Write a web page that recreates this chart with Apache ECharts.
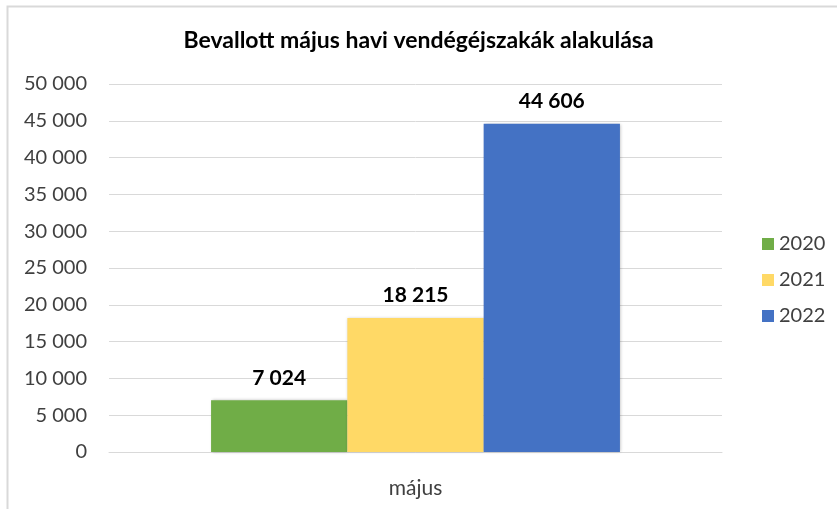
<!DOCTYPE html>
<html>
<head>
<meta charset="utf-8">
<script src="https://cdn.jsdelivr.net/npm/echarts@6/dist/echarts.min.js"></script>
<style>html,body{margin:0;padding:0;background:#fff}#c{width:837px;height:509px}</style>
</head>
<body>
<div id="c"></div>
<script>
var titleText = 'Bevallott május havi vendégéjszakák alakulása';
var categories = ['május'];
var seriesNames = ['2020', '2021', '2022'];
var values2020 = [7024];
var values2021 = [18215];
var values2022 = [44606];
var yMin = 0, yMax = 50000, yStep = 5000;
var colors = ['#70ad47', '#ffd966', '#4472c4'];

function fmt(v) {
  return String(Math.round(v)).replace(/\B(?=(\d{3})+(?!\d))/g, ' ');
}
var FONT = 'Lato';
var chart = echarts.init(document.getElementById('c'), null, {renderer: 'canvas'});
var dataSets = [values2020, values2021, values2022];
var series = seriesNames.map(function (n, i) {
  return {
    name: n,
    type: 'bar',
    data: dataSets[i],
    barGap: '0%',
    barCategoryGap: '33.3%',
    itemStyle: {color: colors[i], shadowColor: 'rgba(0,0,0,0.25)', shadowBlur: 3, shadowOffsetX: 1, shadowOffsetY: 0},
    label: {
      show: true, position: 'top', distance: 12,
      fontFamily: FONT, fontWeight: 'bold', fontSize: 21, color: '#000',
      formatter: function (p) { return fmt(p.value); }
    }
  };
});
chart.setOption({
  animation: false,
  color: colors,
  title: {
    text: titleText, left: 'center', top: 24,
    textStyle: {fontFamily: FONT, fontWeight: 'bold', fontSize: 23, color: '#000'}
  },
  legend: {
    orient: 'vertical', left: 757, top: 229, itemGap: 16,
    itemWidth: 12, itemHeight: 12, icon: 'rect',
    textStyle: {fontFamily: FONT, fontSize: 20, color: '#404040'},
    data: seriesNames
  },
  grid: {left: 109, top: 84, width: 613, height: 368, containLabel: false},
  xAxis: {
    type: 'category', data: categories,
    axisLine: {show: true, lineStyle: {color: '#d9d9d9', width: 1}},
    axisTick: {show: false},
    axisLabel: {margin: 26, fontFamily: FONT, fontSize: 21, color: '#404040'}
  },
  yAxis: {
    type: 'value', min: yMin, max: yMax, interval: yStep,
    axisLine: {show: false}, axisTick: {show: false},
    splitLine: {lineStyle: {color: '#d9d9d9', width: 1}},
    axisLabel: {margin: 22, fontFamily: FONT, fontSize: 20, color: '#404040', formatter: fmt}
  },
  graphic: [{
    type: 'rect', shape: {x: 7.5, y: 6.5, width: 900, height: 600},
    style: {fill: 'none', stroke: '#d9d9d9', lineWidth: 2}, silent: true
  }],
  series: series
});
</script>
</body>
</html>
